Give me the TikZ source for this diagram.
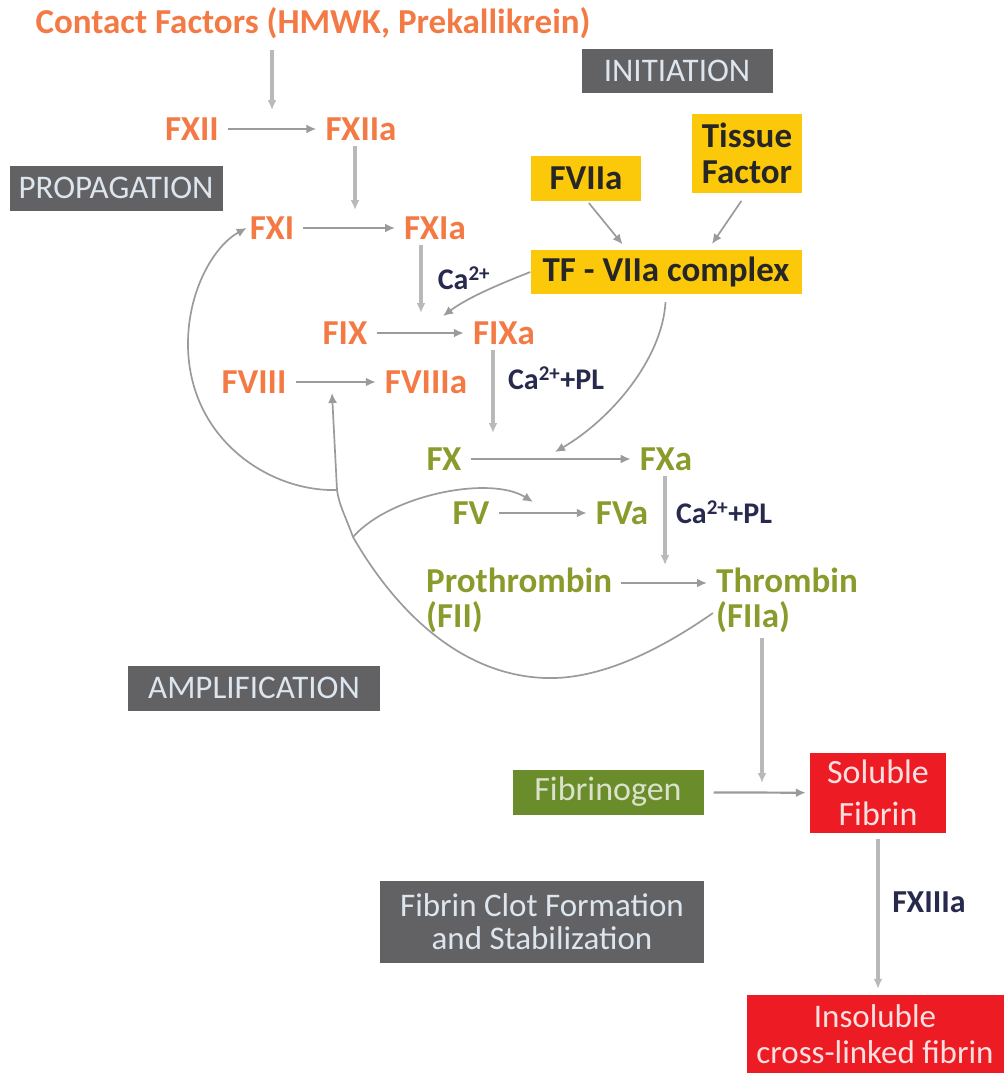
\documentclass[tikz,border=0pt]{standalone}
\usepackage{fontspec}
\setmainfont{Carlito}
\usetikzlibrary{arrows.meta}
\definecolor{coagOrange}{HTML}{F47A45}
\definecolor{coagGreen}{HTML}{8A9B2C}
\definecolor{coagYellow}{HTML}{FCC80A}
\definecolor{coagRed}{HTML}{ED1C24}
\definecolor{coagFib}{HTML}{6A8C2B}
\definecolor{phaseGrey}{HTML}{626264}
\definecolor{phaseText}{HTML}{DDE6EE}
\definecolor{ionText}{HTML}{272A4C}
\definecolor{arrowGrey}{HTML}{9B9B9B}

\tikzset{
  factor/.style={font=\bfseries\fontsize{35}{35}\selectfont, inner sep=3pt},
  orangeF/.style={factor, text=coagOrange},
  greenF/.style={factor, text=coagGreen, align=left},
  phase/.style={fill=phaseGrey, text=phaseText, font=\fontsize{33}{33}\selectfont, inner sep=0pt, align=center},
  yellowBox/.style={fill=coagYellow, text=black!85, font=\bfseries\fontsize{35}{36}\selectfont, inner sep=0pt, align=center},
  redBox/.style={fill=coagRed, text=red!12, font=\fontsize{34}{42}\selectfont, inner sep=0pt, align=center},
  ion/.style={text=ionText, font=\bfseries\fontsize{30}{30}\selectfont, inner sep=0pt},
  arr/.style={draw=arrowGrey, line width=1.7pt, -{Latex[length=10pt,width=9pt]}},
  react/.style={arr, line width=2.2pt, shorten <=6pt, shorten >=6pt},
  vArr/.style={arr, draw=arrowGrey!70, line width=3.4pt},
}

\begin{document}
\begin{tikzpicture}[x=1pt,y=-1pt]
\useasboundingbox (0,0) rectangle (1004,1073);

% phase labels
\node[phase, minimum width=191pt, minimum height=43pt] (initiation) at (677,71) {INITIATION};
\node[phase, minimum width=213pt, minimum height=45pt] (propagation) at (116,188) {PROPAGATION};
\node[phase, minimum width=252pt, minimum height=45pt] (amplification) at (254,688) {AMPLIFICATION};
\node[phase, minimum width=324pt, minimum height=82pt] (clot) at (542,922) {Fibrin Clot Formation\\and Stabilization};

% intrinsic side
\node[orangeF] (contact) at (313,23) {Contact Factors (HMWK, Prekallikrein)};
\node[orangeF] (fxii) at (192,129) {FXII};
\node[orangeF] (fxiia) at (361,129) {FXIIa};
\node[orangeF] (fxi) at (272,228) {FXI};
\node[orangeF] (fxia) at (435,228) {FXIa};
\node[orangeF] (fix) at (345,333) {FIX};
\node[orangeF] (fixa) at (504,333) {FIXa};
\node[orangeF] (fviii) at (254,382) {FVIII};
\node[orangeF] (fviiia) at (426,382) {FVIIIa};

% tissue factor side
\node[yellowBox, minimum width=110pt, minimum height=45pt] (fviia) at (586,178) {FVIIa};
\node[yellowBox, minimum width=110pt, minimum height=79pt] (tf) at (747,153) {Tissue\\Factor};
\node[yellowBox, minimum width=271pt, minimum height=44pt] (tfc) at (666,272) {TF - VIIa complex};

% common pathway
\node[greenF] (fx) at (444,459) {FX};
\node[greenF] (fxa) at (666,459) {FXa};
\node[greenF] (fv) at (471,513) {FV};
\node[greenF] (fva) at (622,513) {FVa};
\node[greenF, anchor=west] (pro) at (423,600) {Prothrombin\\(FII)};
\node[greenF, anchor=west] (thr) at (713,600) {Thrombin\\(FIIa)};

% fibrin
\node[fill=coagFib, text=coagFib!25, font=\fontsize{34}{34}\selectfont, minimum width=191pt, minimum height=45pt, inner sep=0pt] (fibrinogen) at (608,792) {Fibrinogen};
\node[redBox, minimum width=136pt, minimum height=80pt] (soluble) at (878,793) {Soluble\\Fibrin};
\node[redBox, font=\fontsize{33}{36}\selectfont, minimum width=257pt, minimum height=78pt] (insoluble) at (875,1034) {Insoluble\\cross-linked fibrin};

% cofactor labels
\node[ion] (ca1) at (464,278) {Ca\textsuperscript{2+}};
\node[ion] (ca2) at (556,378) {Ca\textsuperscript{2+}+PL};
\node[ion] (ca3) at (724,512) {Ca\textsuperscript{2+}+PL};
\node[ion, font=\bfseries\fontsize{32}{32}\selectfont] (fxiiia) at (929,902) {FXIIIa};

% targets on reaction arrows
\coordinate (xiiAct) at (272,110);
\coordinate (xiAct) at (355,210);
\coordinate (ixAct) at (421,313);
\coordinate (ixTf) at (443,316);
\coordinate (xAct) at (493,433);
\coordinate (xTf) at (555,452);
\coordinate (iiAct) at (665,565);
\coordinate (fibAct) at (762,783);
\coordinate (viiiAct) at (332,393);
\coordinate (vAct) at (533,502);
\coordinate (split1) at (337,490);
\coordinate (split2) at (353,537);

% reactions
\draw[react] (fxii) -- (fxiia);
\draw[react] (fxi) -- (fxia);
\draw[react] (fix) -- (fixa);
\draw[react] (fviii) -- (fviiia);
\draw[react] (fx) -- (fxa);
\draw[react] (fv) -- (fva);
\draw[react] ([yshift=17pt]pro.east) -- ([yshift=17pt]thr.west);
\draw[react, shorten <=10pt, shorten >=4pt] (fibrinogen) -- (soluble);

% activations
\draw[vArr, shorten <=8pt] (contact.south -| xiiAct) -- (xiiAct);
\draw[vArr, shorten <=2pt] (fxiia.south -| xiAct) -- (xiAct);
\draw[vArr, shorten <=2pt] (fxia.south -| ixAct) -- (ixAct);
\draw[vArr, shorten <=2pt] (fixa.south -| xAct) -- (xAct);
\draw[vArr, shorten <=2pt] (fxa.south -| iiAct) -- (iiAct);
\draw[vArr, shorten <=2pt] (thr.south -| fibAct) -- (fibAct);
\draw[vArr, shorten <=6pt, shorten >=6pt] (soluble.south) -- (soluble.south |- insoluble.north);

\draw[arr, shorten <=3pt, shorten >=7pt] ([xshift=1pt]fviia.south) -- ([xshift=-39pt]tfc.north);
\draw[arr, shorten <=10pt, shorten >=7pt] (tf.south) -- ([xshift=42pt]tfc.north);
\draw[arr] (tfc.west) .. controls (505,282) and (470,296) .. (ixTf);
\draw[arr, shorten <=8pt] (tfc.south) .. controls (662,360) and (610,420) .. (xTf);

% thrombin feedback
\draw[arr] ([yshift=-13pt]thr.west) .. controls (660,650) and (600,680) .. (545,678)
  .. controls (460,675) and (395,610) .. (split2)
  .. controls (345,515) and (339,505) .. (split1) -- (viiiAct);
\draw[arr] (split1) .. controls (270,492) and (190,440) .. (188,347)
  .. controls (187,290) and (215,245) .. (fxi.west);
\draw[arr] (split2) .. controls (390,495) and (490,475) .. (vAct);

\end{tikzpicture}
\end{document}
